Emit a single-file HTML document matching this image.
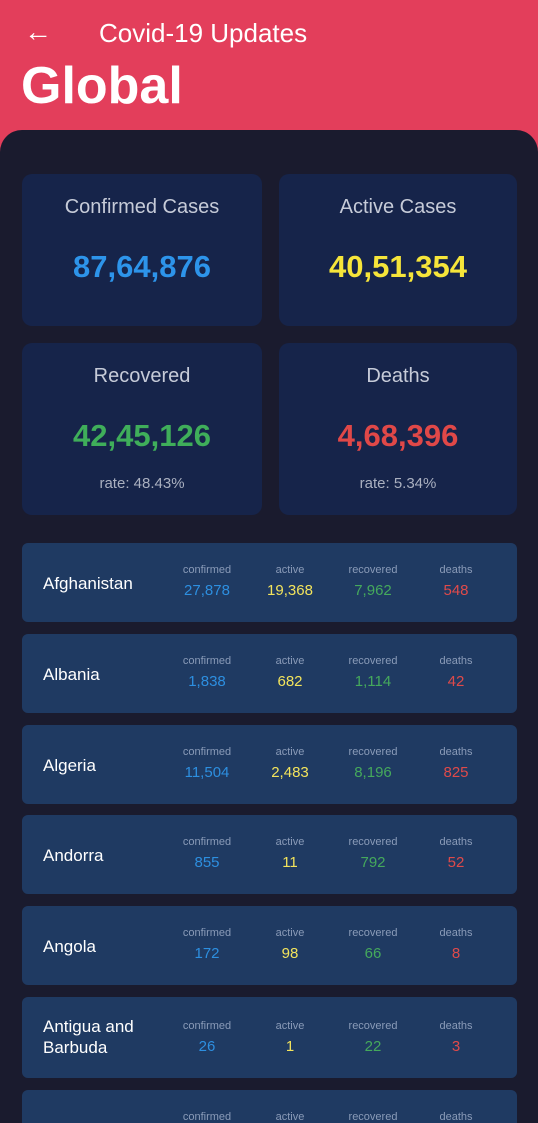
<!DOCTYPE html>
<html style="overflow:hidden;height:1123px"><head><meta charset="utf-8"><style>
*{margin:0;padding:0;box-sizing:border-box}
html,body{overflow:hidden;height:1123px}
#wrap{width:538px;height:1123px;overflow:hidden;background:#e33e5b;font-family:"Liberation Sans",sans-serif;position:relative}
.abs{position:absolute}
#panel{left:0;top:130px;width:538px;height:993px;background:#1a1b2e;border-radius:22px 22px 0 0}
.card{background:#16244a;border-radius:10px;width:240px;text-align:center;color:#c6cbd8}
.card .t{position:absolute;top:22px;width:100%;font-size:20px}
.card .v{position:absolute;top:75px;width:100%;font-size:31px;font-weight:bold}
.card .r{position:absolute;top:132px;width:100%;font-size:15px;color:#aab0c0}
.row{left:22px;width:495px;height:79px;background:#1f3a62;border-radius:6px}
.row .n{position:absolute;left:21px;top:30px;color:#fff;font-size:17px;line-height:21px}
.col{position:absolute;width:80px;margin-left:-40px;text-align:center}
.col .l{font-size:11px;color:#8a9bb8;margin-top:21px}
.col .x{font-size:15px;margin-top:6px}
</style></head><body>
<div id="wrap">
<div class="abs" style="left:24px;top:16px;color:#fff;font-size:28px">&#8592;</div>
<div class="abs" style="left:99px;top:18px;color:#fff;font-size:26px">Covid-19 Updates</div>
<div class="abs" style="left:21px;top:56px;color:#fff;font-size:52px;font-weight:bold">Global</div>
<div id="panel" class="abs"></div>
<div class="abs card" style="left:22px;top:174px;height:152px"><div class="t">Confirmed Cases</div><div class="v" style="color:#2d94ea">87,64,876</div></div>
<div class="abs card" style="left:279px;top:174px;width:238px;height:152px"><div class="t">Active Cases</div><div class="v" style="color:#f6e53a">40,51,354</div></div>
<div class="abs card" style="left:22px;top:343px;height:172px"><div class="t">Recovered</div><div class="v" style="color:#3fae5a">42,45,126</div><div class="r">rate: 48.43%</div></div>
<div class="abs card" style="left:279px;top:343px;width:238px;height:172px"><div class="t">Deaths</div><div class="v" style="color:#e04848">4,68,396</div><div class="r">rate: 5.34%</div></div>
<div id="rows"></div>
</div>
<script>
const countries=["Afghanistan","Albania","Algeria","Andorra","Angola","Antigua and<br>Barbuda",""];
const confirmed=["27,878","1,838","11,504","855","172","26",""];
const active=["19,368","682","2,483","11","98","1",""];
const recovered=["7,962","1,114","8,196","792","66","22",""];
const deaths=["548","42","825","52","8","3",""];
const tops=[543,634,725,815,906,997,1090];
const cols=[["confirmed",185,"#2d8fe0",confirmed],["active",268,"#f3e45c",active],["recovered",351,"#45a95c",recovered],["deaths",434,"#e04a4a",deaths]];
const R=document.getElementById('rows');
countries.forEach((c,i)=>{
 const d=document.createElement('div');
 d.className='abs row';d.style.top=tops[i]+'px';
 if(i===5)d.style.height='81px';
 
 
 let h='<div class="n" style="top:'+(i===5?19:30)+'px">'+c+'</div>';
 cols.forEach(k=>{h+='<div class="col" style="left:'+k[1]+'px;'+(i===5?'top:2px':'')+'"><div class="l">'+k[0]+'</div><div class="x" style="color:'+k[2]+'">'+k[3][i]+'</div></div>';});
 d.innerHTML=h;R.appendChild(d);
});
</script>
</body></html>
